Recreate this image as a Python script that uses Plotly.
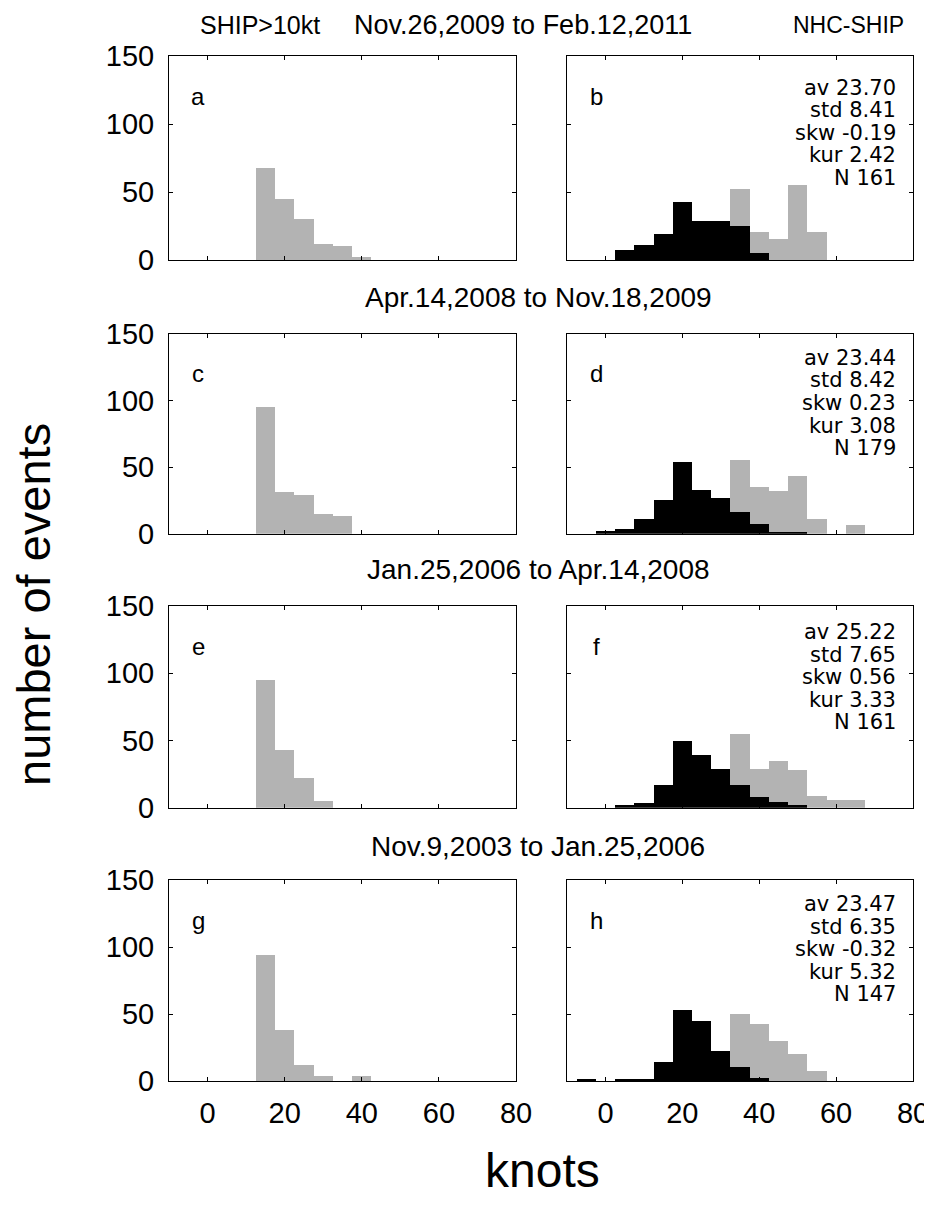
import plotly.graph_objects as go

# ---------------- data ----------------
bin_centers = [-5, 0, 5, 10, 15, 20, 25, 30, 35, 40, 45, 50, 55, 60, 65]

# left column (SHIP>10kt), gray
ship_a = [0, 0, 0, 0, 68, 45, 30, 12, 10, 2, 0, 0, 0, 0, 0]
ship_c = [0, 0, 0, 0, 95, 31, 29, 15, 13, 0, 0, 0, 0, 0, 0]
ship_e = [0, 0, 0, 0, 95, 43, 22, 5, 0, 0, 0, 0, 0, 0, 0]
ship_g = [0, 0, 0, 0, 94, 38, 12, 4, 0, 4, 0, 0, 0, 0, 0]

# right column: NHC-SHIP (black) and NHC (gray)
diff_b = [0, 0, 7, 11, 19, 43, 28.5, 28.5, 25, 5, 0, 0, 0, 0, 0]
nhc_b = [0, 0, 0, 0, 0, 0, 0, 0, 52, 20.5, 15.5, 55.5, 20.5, 0, 0]
diff_d = [0, 2, 3.5, 10.7, 25, 54, 33, 27, 16, 7, 1.3, 1.3, 0, 0, 0]
nhc_d = [0, 0, 0, 0, 0, 0, 0, 0, 55.7, 35, 32.3, 43.3, 11, 0, 6.5]
diff_f = [0, 0, 2.2, 3.7, 16.6, 49.5, 39, 29, 16.6, 7.9, 4.2, 2.2, 0, 0, 0]
nhc_f = [0, 0, 0, 0, 0, 0, 0, 0, 55, 29, 35, 28.2, 8.7, 5.7, 5.7]
diff_h = [2, 0, 2, 2, 14.4, 53, 45, 22.4, 11, 2.5, 0, 0, 0, 0, 0]
nhc_h = [0, 0, 0, 0, 0, 0, 0, 0, 50.2, 43, 30, 20, 7.5, 0, 0]

stats_b = ["av 23.70", "std 8.41", "skw -0.19", "kur 2.42", "N 161"]
stats_d = ["av 23.44", "std 8.42", "skw 0.23", "kur 3.08", "N 179"]
stats_f = ["av 25.22", "std 7.65", "skw 0.56", "kur 3.33", "N 161"]
stats_h = ["av 23.47", "std 6.35", "skw -0.32", "kur 5.32", "N 147"]

period_titles = ["Nov.26,2009 to Feb.12,2011", "Apr.14,2008 to Nov.18,2009",
                 "Jan.25,2006 to Apr.14,2008", "Nov.9,2003 to Jan.25,2006"]
left_letters = ["a", "c", "e", "g"]
right_letters = ["b", "d", "f", "h"]

x_ticks = [0, 20, 40, 60, 80]
y_ticks = [0, 50, 100, 150]

# ---------------- layout geometry ----------------
OFF = 8                      # page body margin
W, H = 932 - OFF, 1217 - OFF
GRAY = "#b3b3b3"
FONT = "Liberation Sans"
SFONT = "DejaVu Sans"

left_px = (169, 516)
right_px = (567, 913)
rows_px = [(56, 260), (334, 533.7), (606, 807.7), (880, 1081.3)]
title_y_px = [25, 297, 569, 846]
stat_top_px = [88, 358, 632, 904]
green_y_px = [83, 356, 628, 906]


def fx(px):
    return (px - OFF) / W


def fy(py):
    return 1 - (py - OFF) / H


fig = go.Figure()
layout = {}

left_data = [ship_a, ship_c, ship_e, ship_g]
right_diff = [diff_b, diff_d, diff_f, diff_h]
right_nhc = [nhc_b, nhc_d, nhc_f, nhc_h]
right_stats = [stats_b, stats_d, stats_f, stats_h]

annotations = []
shapes = []

for r in range(4):
    top, bot = rows_px[r]
    for c in range(2):
        idx = r * 2 + c + 1
        xa = "x" if idx == 1 else f"x{idx}"
        ya = "y" if idx == 1 else f"y{idx}"
        xkey = "xaxis" if idx == 1 else f"xaxis{idx}"
        ykey = "yaxis" if idx == 1 else f"yaxis{idx}"
        xp = left_px if c == 0 else right_px
        if c == 0:
            fig.add_trace(go.Bar(x=bin_centers, y=left_data[r], width=5,
                                 marker=dict(color=GRAY, line=dict(width=0)),
                                 xaxis=xa, yaxis=ya, showlegend=False))
        else:
            fig.add_trace(go.Bar(x=bin_centers, y=right_nhc[r], width=5,
                                 marker=dict(color=GRAY, line=dict(width=0)),
                                 xaxis=xa, yaxis=ya, showlegend=False))
            fig.add_trace(go.Bar(x=bin_centers, y=right_diff[r], width=5,
                                 marker=dict(color="black", line=dict(width=0)),
                                 xaxis=xa, yaxis=ya, showlegend=False))
        layout[xkey] = dict(domain=[fx(xp[0]), fx(xp[1])], range=[-10, 80],
                            anchor=ya, tickvals=x_ticks, automargin=False,
                            showticklabels=(r == 3), ticks="inside", ticklen=4,
                            tickcolor="black", showline=True, linecolor="black",
                            linewidth=1, mirror="ticks", showgrid=False,
                            zeroline=False,
                            tickfont=dict(family=FONT, size=29, color="black"),
                            ticklabelstandoff=6)
        layout[ykey] = dict(domain=[fy(bot), fy(top)], range=[0, 150],
                            anchor=xa, tickvals=y_ticks, automargin=False,
                            showticklabels=(c == 0), ticks="inside", ticklen=4,
                            tickcolor="black", showline=True, linecolor="black",
                            linewidth=1, mirror="ticks", showgrid=False,
                            zeroline=False,
                            tickfont=dict(family=FONT, size=29, color="black"),
                            ticklabelstandoff=8)
        letter = left_letters[r] if c == 0 else right_letters[r]
        annotations.append(dict(text=letter, x=fx(xp[0] + 29), y=fy(top + 40),
                                xref="paper", yref="paper", xanchor="center",
                                yanchor="middle", showarrow=False,
                                font=dict(family=FONT, size=24, color="black")))
    # stats text
    st = right_stats[r]
    for i, s in enumerate(st):
        annotations.append(dict(text=s, x=fx(898), y=fy(stat_top_px[r] + 22.5 * i),
                                xref="paper", yref="paper", xanchor="right",
                                yanchor="middle", showarrow=False,
                                font=dict(family=SFONT, size=21, color="black")))
    # small green mark at right edge (cut off in the original)
    gy = green_y_px[r]
    shapes.append(dict(type="line", xref="paper", yref="paper",
                       x0=fx(927), x1=fx(932), y0=fy(gy), y1=fy(gy),
                       line=dict(color="green", width=1)))
    shapes.append(dict(type="line", xref="paper", yref="paper",
                       x0=fx(930), x1=fx(930), y0=fy(gy - 2), y1=fy(gy + 2),
                       line=dict(color="green", width=1)))
    # period title
    annotations.append(dict(text=period_titles[r], x=fx(538 if r else 523),
                            y=fy(title_y_px[r]), xref="paper", yref="paper",
                            xanchor="center", yanchor="middle", showarrow=False,
                            font=dict(family=FONT, size=27 if r == 0 else 28,
                                      color="black")))

annotations.append(dict(text="SHIP>10kt", x=fx(260), y=fy(25), xref="paper",
                        yref="paper", xanchor="center", yanchor="middle",
                        showarrow=False,
                        font=dict(family=FONT, size=25, color="black")))
annotations.append(dict(text="NHC-SHIP", x=fx(848), y=fy(25), xref="paper",
                        yref="paper", xanchor="center", yanchor="middle",
                        showarrow=False,
                        font=dict(family=FONT, size=23, color="black")))
annotations.append(dict(text="number of events", x=fx(33), y=fy(605),
                        xref="paper", yref="paper", xanchor="center",
                        yanchor="middle", textangle=-90, showarrow=False,
                        font=dict(family=FONT, size=47, color="black")))
annotations.append(dict(text="knots", x=fx(542), y=fy(1170), xref="paper",
                        yref="paper", xanchor="center", yanchor="middle",
                        showarrow=False,
                        font=dict(family=FONT, size=48, color="black")))

fig.update_layout(width=W, height=H,
                  margin=dict(l=0, r=0, t=0, b=0, autoexpand=False),
                  paper_bgcolor="white", plot_bgcolor="white",
                  barmode="overlay", bargap=0, annotations=annotations,
                  shapes=shapes, **layout)

fig.write_html("out.html")
